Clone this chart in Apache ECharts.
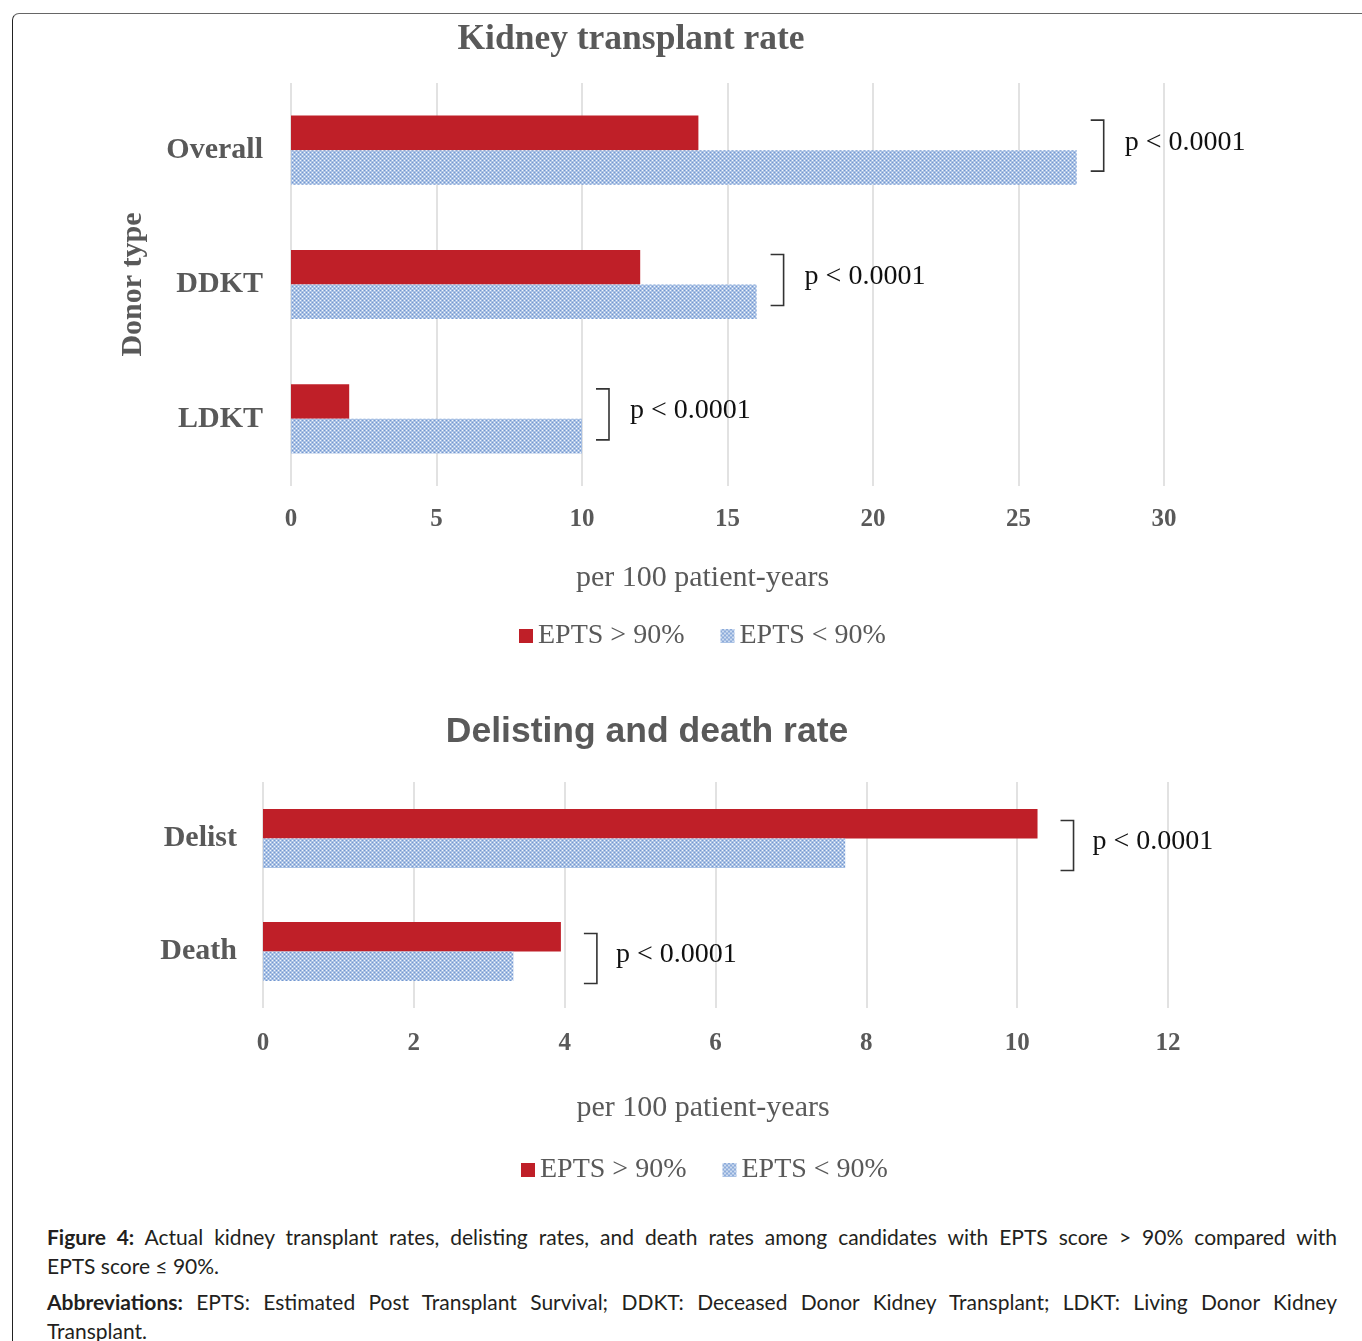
<!DOCTYPE html>
<html>
<head>
<meta charset="utf-8">
<script src="https://cdn.jsdelivr.net/npm/echarts@6/dist/echarts.min.js"></script>
<style>
  html,body{margin:0;padding:0;background:#fff;width:1362px;height:1341px;overflow:hidden;}
  #frame{position:absolute;left:12px;top:13px;width:1400px;height:1400px;border-top:1.5px solid #666;border-left:1.5px solid #222;border-top-left-radius:7px;box-sizing:border-box;}
  #chart{position:absolute;left:0;top:0;width:1362px;height:1215px;}
  #caption{position:absolute;left:47px;top:1222px;width:1290px;font-family:Lato,'Noto Sans',sans-serif;font-size:21px;color:#231f20;}
  .ln{height:29px;line-height:29px;white-space:nowrap;}
  .just{text-align:justify;text-align-last:justify;white-space:normal;}
  .gap{height:7px;}
</style>
</head>
<body>
<div id="frame"></div>
<div id="chart"></div>
<div id="caption">
  <div class="ln just"><b>Figure 4:</b> Actual kidney transplant rates, delisting rates, and death rates among candidates with EPTS score &gt; 90% compared with</div>
  <div class="ln">EPTS score ≤ 90%.</div>
  <div class="gap"></div>
  <div class="ln just"><b>Abbreviations:</b> EPTS: Estimated Post Transplant Survival; DDKT: Deceased Donor Kidney Transplant; LDKT: Living Donor Kidney</div>
  <div class="ln">Transplant.</div>
</div>
<script>
// ---- data ----
const seriesNames = ['EPTS > 90%', 'EPTS < 90%'];

const title1 = 'Kidney transplant rate';
const categories1 = ['Overall', 'DDKT', 'LDKT'];
const high1 = [14, 12, 2];      // EPTS > 90%
const low1 = [27, 16, 10];      // EPTS < 90%
const pLabels1 = ['p < 0.0001', 'p < 0.0001', 'p < 0.0001'];
const xTicks1 = [0, 5, 10, 15, 20, 25, 30];

const title2 = 'Delisting and death rate';
const categories2 = ['Delist', 'Death'];
const high2 = [10.27, 3.95];
const low2 = [7.72, 3.32];
const pLabels2 = ['p < 0.0001', 'p < 0.0001'];
const xTicks2 = [0, 2, 4, 6, 8, 10, 12];

const axisName = 'per 100 patient-years';
const yName1 = 'Donor type';

// ---- styles ----
const SERIF = 'Liberation Serif';
const GREY = '#595959';
const RED = '#bf1f28';

function makePattern() {
  const c = document.createElement('canvas');
  c.width = 4; c.height = 4;
  const g = c.getContext('2d');
  g.fillStyle = '#a9c1e4'; g.fillRect(0, 0, 4, 4);
  g.fillStyle = '#f2f6fc'; g.fillRect(0, 0, 1, 1); g.fillRect(2, 2, 1, 1);
  g.fillStyle = '#7397d1'; g.fillRect(2, 0, 1, 1); g.fillRect(0, 2, 1, 1);
  return c;
}
const BLUE = { image: makePattern(), repeat: 'repeat' };

const chart = echarts.init(document.getElementById('chart'), null, { renderer: 'canvas' });

function bracketSeries(gridIdx, highs, lows, labels, cfg) {
  const data = highs.map((h, i) => [Math.max(h, lows[i]), i, labels[i]]);
  return {
    type: 'custom',
    xAxisIndex: gridIdx, yAxisIndex: gridIdx,
    clip: false, silent: true,
    data: data,
    encode: { x: 0, y: 1 },
    renderItem: function (params, api) {
      const p = api.coord([api.value(0), api.value(1)]);
      const bx = p[0] + cfg.dx;
      const y1 = p[1] + cfg.top, y2 = p[1] + cfg.bottom;
      return {
        type: 'group',
        children: [
          { type: 'polyline', shape: { points: [[bx - 13, y1], [bx, y1], [bx, y2], [bx - 13, y2]] },
            style: { stroke: '#333', lineWidth: 1.6, fill: null } },
          { type: 'text', style: { x: bx + cfg.tx, y: p[1] + cfg.ty, text: data[params.dataIndex][2],
            font: '28px "' + SERIF + '"', fill: '#111', verticalAlign: 'middle', align: 'left' } }
        ]
      };
    }
  };
}

function xAxisCfg(gridIdx, ticks, gap, namePad, labelMargin) {
  return {
    gridIndex: gridIdx, type: 'value',
    min: ticks[0], max: ticks[ticks.length - 1], interval: ticks[1] - ticks[0],
    axisLine: { show: false }, axisTick: { show: false },
    splitLine: { show: true, lineStyle: { color: '#d9d9d9', width: 1.5 } },
    axisLabel: { margin: labelMargin, fontFamily: SERIF, fontWeight: 'bold', fontSize: 25, color: GREY },
    name: axisName, nameLocation: 'middle', nameGap: gap,
    nameTextStyle: { fontFamily: SERIF, fontSize: 30, color: GREY, padding: namePad }
  };
}

function yAxisCfg(gridIdx, cats, margin, extra) {
  return Object.assign({
    gridIndex: gridIdx, type: 'category', data: cats, inverse: true,
    axisLine: { show: false }, axisTick: { show: false },
    axisLabel: { margin: margin, fontFamily: SERIF, fontWeight: 'bold', fontSize: 30, color: GREY }
  }, extra || {});
}

const option = {
  animation: false,
  title: [
    { text: title1, left: 626, top: 17, textAlign: 'center',
      textStyle: { fontFamily: SERIF, fontWeight: 'bold', fontSize: 35.5, color: GREY } },
    { text: title2, left: 642, top: 709, textAlign: 'center',
      textStyle: { fontFamily: 'Liberation Sans', fontWeight: 'bold', fontSize: 35.5, color: GREY } }
  ],
  legend: [
    { data: seriesNames, left: 514, top: 617, icon: 'rect', itemWidth: 14, itemHeight: 14, itemGap: 36,
      textStyle: { fontFamily: SERIF, fontSize: 28, color: GREY } },
    { data: seriesNames, left: 516, top: 1151, icon: 'rect', itemWidth: 14, itemHeight: 14, itemGap: 36,
      textStyle: { fontFamily: SERIF, fontSize: 28, color: GREY } }
  ],
  grid: [
    { left: 291, top: 83, width: 873, height: 403 },
    { left: 263, top: 782, width: 905, height: 226 }
  ],
  xAxis: [
    xAxisCfg(0, xTicks1, 77, [0, 50, 0, 0], 21),
    xAxisCfg(1, xTicks2, 85, [0, 25, 0, 0], 23)
  ],
  yAxis: [
    yAxisCfg(0, categories1, 28, { name: yName1, nameLocation: 'middle', nameRotate: 90, nameGap: 143,
      nameTextStyle: { fontFamily: SERIF, fontWeight: 'bold', fontSize: 30, color: GREY } }),
    yAxisCfg(1, categories2, 26)
  ],
  series: [
    { name: seriesNames[0], type: 'bar', xAxisIndex: 0, yAxisIndex: 0, data: high1,
      itemStyle: { color: RED }, barGap: '0%', barCategoryGap: '48.5%' },
    { name: seriesNames[1], type: 'bar', xAxisIndex: 0, yAxisIndex: 0, data: low1,
      itemStyle: { color: BLUE }, barGap: '0%', barCategoryGap: '48.5%' },
    { name: seriesNames[0], type: 'bar', xAxisIndex: 1, yAxisIndex: 1, data: high2,
      itemStyle: { color: RED }, barGap: '0%', barCategoryGap: '48%' },
    { name: seriesNames[1], type: 'bar', xAxisIndex: 1, yAxisIndex: 1, data: low2,
      itemStyle: { color: BLUE }, barGap: '0%', barCategoryGap: '48%' },
    bracketSeries(0, high1, low1, pLabels1, { dx: 27, top: -30, bottom: 21, tx: 21, ty: -8 }),
    bracketSeries(1, high2, low2, pLabels2, { dx: 36, top: -18, bottom: 32, tx: 19, ty: 3 })
  ]
};
chart.setOption(option);
</script>
</body>
</html>
